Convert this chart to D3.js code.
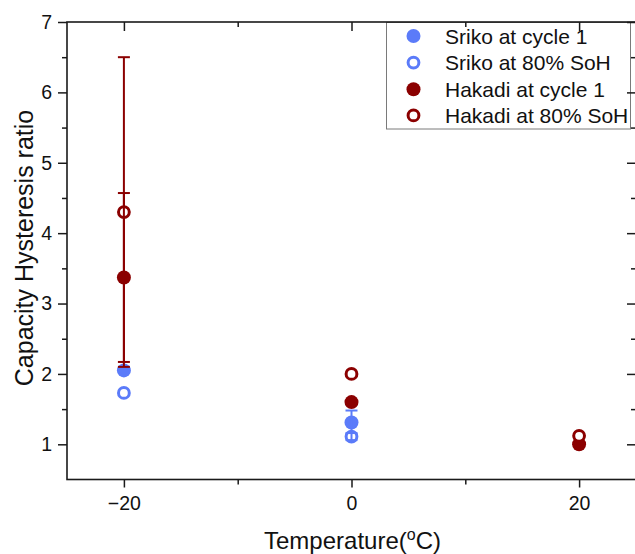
<!DOCTYPE html>
<html>
<head>
<meta charset="utf-8">
<script src="https://cdn.jsdelivr.net/npm/d3@7"></script>
<style>
  html, body { margin: 0; padding: 0; background: #fff; }
  svg { display: block; font-family: "Liberation Sans", Arial, sans-serif; }
</style>
</head>
<body>
<svg id="chart" width="635" height="554"></svg>
<script>
// Temperatures (°C) at which each battery was measured
const temperatures = [-20, 0, 20];

// Capacity hysteresis ratio per temperature, with ± error
const srikoCycle1 = [2.05, 1.31, null];
const srikoCycle1Err = [0, 0.17, null];
const srikoSoH80 = [1.73, 1.11, null];
const srikoSoH80Err = [0, 0.05, null];
const hakadiCycle1 = [3.37, 1.60, 1.00];
const hakadiCycle1Err = [1.2, 0, 0];
const hakadiSoH80 = [4.30, 2.00, 1.12];
const hakadiSoH80Err = [2.2, 0, 0];

const seriesNames = ["Sriko at cycle 1", "Sriko at 80% SoH", "Hakadi at cycle 1", "Hakadi at 80% SoH"];

// Axis ticks
const xMajorTicks = [-20, 0, 20];
const xMinorTicks = [-10, 10];
const yMajorTicks = [1, 2, 3, 4, 5, 6, 7];
const yMinorTicks = [1.5, 2.5, 3.5, 4.5, 5.5, 6.5];

const BLUE = "#5b7bf9";
const RED = "#8b0000";
const AXIS = "#1a1a1a";

const series = [
  { name: seriesNames[0], values: srikoCycle1, errors: srikoCycle1Err, color: BLUE, open: false },
  { name: seriesNames[1], values: srikoSoH80, errors: srikoSoH80Err, color: BLUE, open: true },
  { name: seriesNames[2], values: hakadiCycle1, errors: hakadiCycle1Err, color: RED, open: false },
  { name: seriesNames[3], values: hakadiSoH80, errors: hakadiSoH80Err, color: RED, open: true }
];

const svg = d3.select("#chart");
const plotLeft = 67, plotRight = 636, plotTop = 22, plotBottom = 479.5;

const x = d3.scaleLinear().domain([-25, 25]).range([plotLeft, plotRight]);
const y = d3.scaleLinear().domain([0.5, 7]).range([plotBottom, plotTop]);

// Legend box (axes ticks are drawn over it afterwards)
const legend = svg.append("g");
legend.append("rect")
  .attr("x", 386.5).attr("y", 22.5).attr("width", 244).attr("height", 106.5)
  .attr("fill", "#fff").attr("stroke", "#7a7a7a").attr("stroke-width", 1);
const rowY = [36, 62.6, 89.2, 115.4];
series.forEach((s, i) => {
  const row = legend.append("g").attr("transform", `translate(0,${rowY[i]})`);
  if (s.open) {
    row.append("circle").attr("cx", 413.5).attr("cy", 0).attr("r", 5.4)
      .attr("fill", "#fff").attr("stroke", s.color).attr("stroke-width", 3);
  } else {
    row.append("circle").attr("cx", 413.5).attr("cy", 0).attr("r", 7)
      .attr("fill", s.color);
  }
  row.append("text").attr("x", 445).attr("y", 7.6)
    .attr("font-size", 21).attr("fill", "#111").text(s.name);
});

// Markers and error bars
const plot = svg.append("g");
series.forEach(s => {
  const pts = temperatures.map((t, i) => ({ t, v: s.values[i], e: s.errors[i] }))
    .filter(d => d.v != null);
  const g = plot.append("g");
  pts.forEach(d => {
    const cx = x(d.t), cy = y(d.v);
    if (s.open) {
      g.append("circle").attr("cx", cx).attr("cy", cy).attr("r", 5.4)
        .attr("fill", "#fff").attr("stroke", s.color).attr("stroke-width", 3);
    } else {
      g.append("circle").attr("cx", cx).attr("cy", cy).attr("r", 7)
        .attr("fill", s.color);
    }
    if (d.e > 0) {
      const y1 = y(d.v + d.e), y0 = y(d.v - d.e);
      g.append("line").attr("x1", cx).attr("x2", cx).attr("y1", y1).attr("y2", y0)
        .attr("stroke", s.color).attr("stroke-width", 2);
      [y1, y0].forEach(yy => {
        g.append("line").attr("x1", cx - 6).attr("x2", cx + 6).attr("y1", yy).attr("y2", yy)
          .attr("stroke", s.color).attr("stroke-width", 2);
      });
    }
  });
});

// Axes: outward ticks on bottom/left, inward ticks on top/right
function styleAxis(g) {
  g.select(".domain").remove();
  g.selectAll("line").attr("stroke", AXIS).attr("stroke-width", 1.5);
  g.selectAll("text").attr("font-size", 19.5).attr("fill", "#111")
    .attr("font-family", "'Liberation Sans', Arial, sans-serif");
}

svg.append("g").attr("transform", `translate(0,${plotBottom})`)
  .call(d3.axisBottom(x).tickValues(xMajorTicks).tickSize(8).tickPadding(9)
    .tickFormat(d => d < 0 ? "\u2212" + Math.abs(d) : d))
  .call(styleAxis);
svg.append("g").attr("transform", `translate(0,${plotBottom})`)
  .call(d3.axisBottom(x).tickValues(xMinorTicks).tickSize(5).tickFormat(""))
  .call(styleAxis);
svg.append("g").attr("transform", `translate(0,${plotTop})`)
  .call(d3.axisBottom(x).tickValues(xMajorTicks).tickSize(9).tickFormat(""))
  .call(styleAxis);
svg.append("g").attr("transform", `translate(0,${plotTop})`)
  .call(d3.axisBottom(x).tickValues(xMinorTicks).tickSize(5).tickFormat(""))
  .call(styleAxis);

svg.append("g").attr("transform", `translate(${plotLeft},0)`)
  .call(d3.axisLeft(y).tickValues(yMajorTicks).tickSize(9).tickPadding(6)
    .tickFormat(d3.format("d")))
  .call(styleAxis);
svg.append("g").attr("transform", `translate(${plotLeft},0)`)
  .call(d3.axisLeft(y).tickValues(yMinorTicks).tickSize(5).tickFormat(""))
  .call(styleAxis);
svg.append("g").attr("transform", `translate(${plotRight},0)`)
  .call(d3.axisLeft(y).tickValues(yMajorTicks).tickSize(9).tickFormat(""))
  .call(styleAxis);
svg.append("g").attr("transform", `translate(${plotRight},0)`)
  .call(d3.axisLeft(y).tickValues(yMinorTicks).tickSize(5).tickFormat(""))
  .call(styleAxis);

// Frame
svg.append("rect")
  .attr("x", plotLeft).attr("y", plotTop)
  .attr("width", plotRight - plotLeft).attr("height", plotBottom - plotTop)
  .attr("fill", "none").attr("stroke", AXIS).attr("stroke-width", 1.6);

// Axis titles
const xTitle = svg.append("text")
  .attr("x", (plotLeft + plotRight) / 2 + 1).attr("y", 548.5)
  .attr("text-anchor", "middle").attr("font-size", 24).attr("fill", "#111");
xTitle.append("tspan").text("Temperature(");
xTitle.append("tspan").attr("font-size", 16).attr("dy", -9).text("o");
xTitle.append("tspan").attr("dy", 9).text("C)");

svg.append("text")
  .attr("transform", "translate(33,248) rotate(-90)")
  .attr("text-anchor", "middle").attr("font-size", 25).attr("fill", "#111")
  .text("Capacity Hysteresis ratio");
</script>
</body>
</html>
